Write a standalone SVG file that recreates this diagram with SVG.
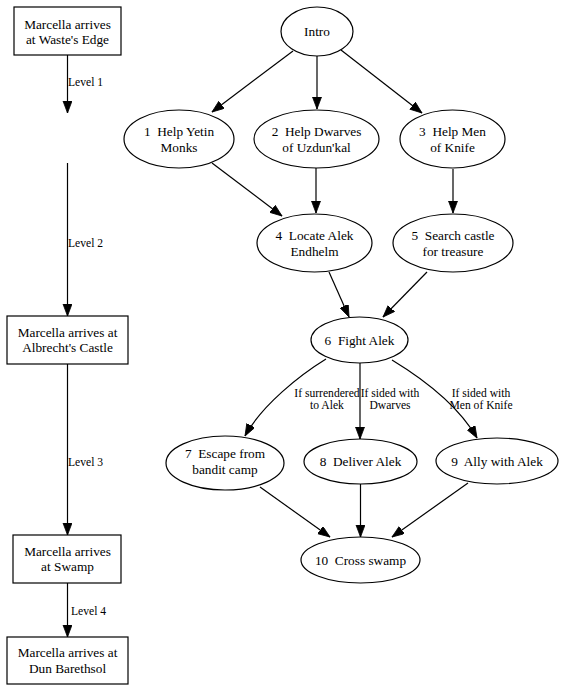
<svg xmlns="http://www.w3.org/2000/svg" width="567" height="692" viewBox="0 0 567 692">
<style>
.n{fill:#fff;stroke:#000;stroke-width:1.2}
.t{font-family:"Liberation Serif","Times New Roman",serif;font-size:13.3px;text-anchor:middle;fill:#000;white-space:pre}
.l{font-family:"Liberation Serif","Times New Roman",serif;font-size:11.6px;fill:#000;white-space:pre}
.lm{text-anchor:middle}
.e{fill:none;stroke:#000;stroke-width:1.2}
</style>
<defs>
<marker id="ah" markerUnits="userSpaceOnUse" markerWidth="13" markerHeight="10" refX="12" refY="4.5" orient="auto">
<path d="M0,0 L12,4.5 L0,9 z" fill="#000" stroke="#000" stroke-width="0.8"/>
</marker>
</defs>
<rect width="567" height="692" fill="#fff"/>
<g id="edges">
<path class="e" d="M67.5,55 L67.5,113" marker-end="url(#ah)"/>
<path class="e" d="M67.5,163 L67.5,316" marker-end="url(#ah)"/>
<path class="e" d="M67.5,364 L67.5,535" marker-end="url(#ah)"/>
<path class="e" d="M67.5,583 L67.5,637" marker-end="url(#ah)"/>
<path class="e" d="M293,51 L212,112" marker-end="url(#ah)"/>
<path class="e" d="M317,56 L317,109" marker-end="url(#ah)"/>
<path class="e" d="M341,50 L422,113" marker-end="url(#ah)"/>
<path class="e" d="M212,163 L282,216" marker-end="url(#ah)"/>
<path class="e" d="M316,168 L316,213" marker-end="url(#ah)"/>
<path class="e" d="M453,169 L453,213" marker-end="url(#ah)"/>
<path class="e" d="M329,272 L349,317" marker-end="url(#ah)"/>
<path class="e" d="M427,272 L383,317" marker-end="url(#ah)"/>
<path class="e" d="M326,359 C300,375 262,405 245,436" marker-end="url(#ah)"/>
<path class="e" d="M360,363 L360,439" marker-end="url(#ah)"/>
<path class="e" d="M392,360 C420,377 458,405 477,438" marker-end="url(#ah)"/>
<path class="e" d="M260,487 L330,537" marker-end="url(#ah)"/>
<path class="e" d="M360.5,484 L360.5,537" marker-end="url(#ah)"/>
<path class="e" d="M468,483 L392,537" marker-end="url(#ah)"/>
<text class="l" x="68" y="86">Level 1</text>
<text class="l" x="68" y="247">Level 2</text>
<text class="l" x="68" y="466">Level 3</text>
<text class="l" x="71" y="615">Level 4</text>
<text class="l lm" x="327" y="397">If surrendered</text>
<text class="l lm" x="327" y="409">to Alek</text>
<text class="l lm" x="390" y="397">If sided with</text>
<text class="l lm" x="390" y="409">Dwarves</text>
<text class="l lm" x="481" y="397">If sided with</text>
<text class="l lm" x="481" y="409">Men of Knife</text>
</g>
<g id="waste">
<rect class="n" x="14" y="7" width="107" height="48"/>
<text class="t" x="67.5" y="28.5">Marcella arrives</text>
<text class="t" x="67.5" y="44">at Waste's Edge</text>
</g>
<g id="castle">
<rect class="n" x="7" y="316" width="121" height="48"/>
<text class="t" x="67.5" y="336.5">Marcella arrives at</text>
<text class="t" x="67.5" y="352">Albrecht's Castle</text>
</g>
<g id="swamp">
<rect class="n" x="13" y="535" width="108" height="48"/>
<text class="t" x="67.5" y="555.5">Marcella arrives</text>
<text class="t" x="67.5" y="571">at Swamp</text>
</g>
<g id="dun">
<rect class="n" x="7" y="637" width="121" height="47"/>
<text class="t" x="67.5" y="657">Marcella arrives at</text>
<text class="t" x="67.5" y="672.5">Dun Barethsol</text>
</g>
<g id="intro">
<ellipse class="n" cx="317" cy="31.5" rx="36" ry="24.5"/>
<text class="t" x="317" y="36">Intro</text>
</g>
<g id="n1">
<ellipse class="n" cx="179" cy="139" rx="55" ry="29"/>
<text class="t" x="179" y="136">1  Help Yetin</text>
<text class="t" x="179" y="151.5">Monks</text>
</g>
<g id="n2">
<ellipse class="n" cx="316.5" cy="139" rx="62.5" ry="29"/>
<text class="t" x="316.5" y="136">2  Help Dwarves</text>
<text class="t" x="316.5" y="151.5">of Uzdun'kal</text>
</g>
<g id="n3">
<ellipse class="n" cx="452.5" cy="139" rx="52.5" ry="29"/>
<text class="t" x="452.5" y="136">3  Help Men</text>
<text class="t" x="452.5" y="151.5">of Knife</text>
</g>
<g id="n4">
<ellipse class="n" cx="314.5" cy="243" rx="57.5" ry="29"/>
<text class="t" x="314.5" y="240">4  Locate Alek</text>
<text class="t" x="314.5" y="255.5">Endhelm</text>
</g>
<g id="n5">
<ellipse class="n" cx="453" cy="243" rx="60" ry="29"/>
<text class="t" x="453" y="240">5  Search castle</text>
<text class="t" x="453" y="255.5">for treasure</text>
</g>
<g id="n6">
<ellipse class="n" cx="359.5" cy="340" rx="48.5" ry="23"/>
<text class="t" x="359.5" y="345">6  Fight Alek</text>
</g>
<g id="n7">
<ellipse class="n" cx="225" cy="463" rx="59" ry="27"/>
<text class="t" x="225" y="458">7  Escape from</text>
<text class="t" x="225" y="473.5">bandit camp</text>
</g>
<g id="n8">
<ellipse class="n" cx="360.5" cy="461.5" rx="56.5" ry="22.5"/>
<text class="t" x="360.5" y="466">8  Deliver Alek</text>
</g>
<g id="n9">
<ellipse class="n" cx="497" cy="461" rx="61" ry="23"/>
<text class="t" x="497" y="465.5">9  Ally with Alek</text>
</g>
<g id="n10">
<ellipse class="n" cx="360.5" cy="560" rx="59.5" ry="23"/>
<text class="t" x="360.5" y="564.5">10  Cross swamp</text>
</g>
</svg>
